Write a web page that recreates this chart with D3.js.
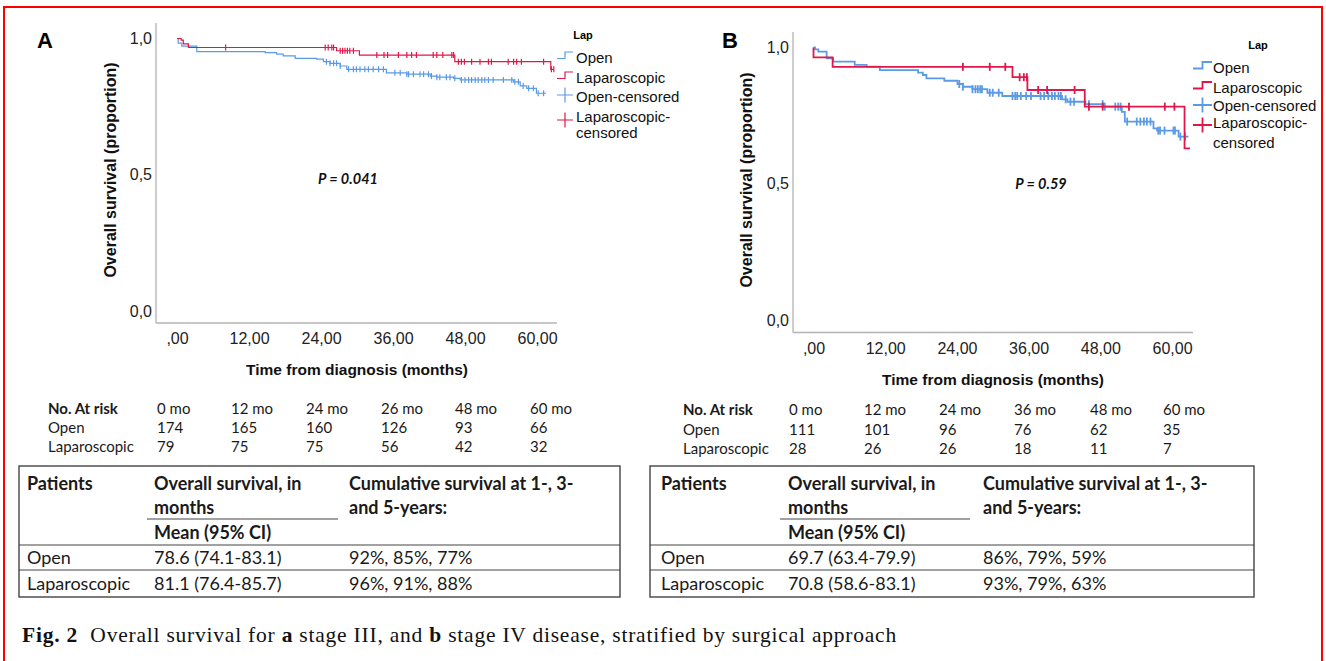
<!DOCTYPE html>
<html lang="en">
<head>
<meta charset="utf-8">
<style>
  body { margin: 0; background: #fff; }
  svg { display: block; }
  .spss { font-family: "Liberation Sans", Arial, sans-serif; }
  .cal { font-family: Lato, "Open Sans", sans-serif; fill: #1a1a1a; }
</style>
</head>
<body>
<svg id="fig" width="1326" height="661"></svg>
<script src="https://d3js.org/d3.v7.min.js"></script>
<script>
// axis ticks
var monthTicks = [0, 12, 24, 36, 48, 60];
var monthTickLabels = [",00", "12,00", "24,00", "36,00", "48,00", "60,00"];
var survTicks = [0, 0.5, 1];
var survTickLabels = ["0,0", "0,5", "1,0"];
var legendLabels = ["Open", "Laparoscopic", "Open-censored", "Laparoscopic-", "censored"];

// panel A (stage III): [month, survival after that month]
var aOpenSteps = [[0, 1], [0.2, 0.983], [0.8, 0.972], [3.3, 0.952], [14.7, 0.948], [16.6, 0.943], [17.7, 0.936],
  [19.7, 0.927], [23.3, 0.924], [24.4, 0.915], [25.5, 0.909], [27.2, 0.899], [28.3, 0.887], [34.9, 0.874],
  [38.3, 0.869], [42.2, 0.862], [43.3, 0.858], [46.1, 0.854], [47.2, 0.848], [56.1, 0.841], [57.2, 0.826],
  [58.3, 0.817], [59.9, 0.799]];
var aOpenEnd = 61.5;
var aOpenCensored = [24.9, 25.5, 26.1, 26.6, 27.2, 28.6, 29.4, 29.9, 30.5, 31.3, 31.9, 32.7, 33.6, 34.4, 36.3,
  37.2, 38.3, 38.6, 39.4, 40.5, 41.1, 41.9, 42.4, 43.3, 43.8, 44.9, 45.5, 46.3, 47.4, 48.0, 48.6, 49.1, 49.7,
  50.2, 50.8, 51.3, 51.9, 52.7, 54.4, 55.8, 56.3, 56.9, 57.7, 58.6, 59.4, 60.2, 61.1];
var aLapSteps = [[0, 1], [0.7, 0.994], [1.05, 0.98], [1.9, 0.967], [26.6, 0.955], [30.4, 0.939], [46.3, 0.915],
  [62.3, 0.887]];
var aLapEnd = 62.8;
var aLapCensored = [8.1, 24.7, 25.2, 25.8, 26.1, 27.2, 27.6, 28.0, 28.4, 28.8, 29.4, 33.3, 34.5, 35.1, 36.9,
  38.3, 39.1, 39.9, 42.7, 43.3, 44.3, 45.8, 46.1, 46.9, 47.4, 47.9, 49.1, 50.5, 51.9, 52.4, 55.2, 56.1, 56.6,
  57.4, 61.1, 62.4, 62.8];

// panel B (stage IV)
var bOpenSteps = [[0, 1], [0.25, 0.993], [0.8, 0.985], [2.2, 0.96], [3.3, 0.948], [6.9, 0.936], [8.9, 0.93],
  [11.1, 0.917], [17.5, 0.908], [18.3, 0.899], [18.9, 0.887], [21.9, 0.878], [24.1, 0.866], [25.0, 0.856],
  [26.6, 0.847], [29.1, 0.834], [31.6, 0.822], [41.6, 0.81], [42.5, 0.801], [45.5, 0.792], [48.6, 0.783],
  [51.6, 0.764], [52.1, 0.728], [56.9, 0.703], [57.5, 0.695], [61.1, 0.673]];
var bOpenEnd = 62.75;
var bOpenCensored = [24.4, 25.0, 26.6, 27.1, 27.5, 27.9, 28.2, 29.5, 30.0, 31.0, 33.3, 33.75, 34.1, 34.7, 35.6,
  36.4, 38.0, 38.6, 39.3, 39.9, 40.4, 41.0, 41.4, 42.2, 43.0, 43.6, 46.1, 48.4, 48.75, 50.5, 51.0, 51.4, 52.5,
  54.1, 54.7, 55.3, 55.8, 56.4, 57.7, 58.0, 58.75, 60.25, 60.5, 61.4, 62.2];
var bLapSteps = [[0, 1], [0, 0.964], [3.2, 0.929], [33.3, 0.891], [35.8, 0.844], [45.4, 0.783], [62.1, 0.63]];
var bLapEnd = 63.0;
var bLapCensored = [25.0, 29.5, 32.1, 34.5, 35.2, 35.7, 37.6, 39.1, 43.7, 46.1, 48.4, 52.8, 58.8, 60.4];

// numbers at risk
var riskHeadA = ["0 mo", "12 mo", "24 mo", "26 mo", "48 mo", "60 mo"];
var riskOpenA = [174, 165, 160, 126, 93, 66];
var riskLapA = [79, 75, 75, 56, 42, 32];
var riskHeadB = ["0 mo", "12 mo", "24 mo", "36 mo", "48 mo", "60 mo"];
var riskOpenB = [111, 101, 96, 76, 62, 35];
var riskLapB = [28, 26, 26, 18, 11, 7];

// summary tables
var summaryHead = [["Patients"], ["Overall survival, in", "months", "Mean (95% CI)"], ["Cumulative survival at 1-, 3-", "and 5-years:"]];
var summaryA = [["Open", "78.6 (74.1-83.1)", "92%, 85%, 77%"], ["Laparoscopic", "81.1 (76.4-85.7)", "96%, 91%, 88%"]];
var summaryB = [["Open", "69.7 (63.4-79.9)", "86%, 79%, 59%"], ["Laparoscopic", "70.8 (58.6-83.1)", "93%, 79%, 63%"]];

var BLUE = "#5b9be6", RED = "#e0174b", AXIS = "#b3b3b3";

var svg = d3.select("#fig");

svg.append("rect").attr("x", 4).attr("y", 7).attr("width", 1318).attr("height", 700)
  .attr("fill", "none").attr("stroke", "#ff0000").attr("stroke-width", 2);

function survAt(steps, t) {
  var s = 1;
  steps.forEach(function(d) { if (d[0] <= t) s = d[1]; });
  return s;
}

function drawPanel(p) {
  var g = svg.append("g").attr("class", "spss");
  var x = d3.scaleLinear().domain([0, 60]).range([p.x0, p.x60]);
  var y = d3.scaleLinear().domain([0, 1]).range([p.yBot, p.yTop]);

  g.append("text").attr("x", p.letter[0]).attr("y", p.letter[1]).attr("text-anchor", "middle")
    .attr("dominant-baseline", "central").attr("font-size", 22).attr("font-weight", "bold").text(p.letter[2]);

  // axis lines
  g.append("line").attr("x1", p.axisX).attr("x2", p.axisX).attr("y1", p.axisTop).attr("y2", p.axisY)
    .attr("stroke", AXIS).attr("stroke-width", 1.3);
  g.append("line").attr("x1", p.axisX).attr("x2", p.axisRight).attr("y1", p.axisY).attr("y2", p.axisY)
    .attr("stroke", AXIS).attr("stroke-width", 1.3);

  var ya = d3.axisLeft(y).tickValues(survTicks).tickSize(0).tickPadding(4)
    .tickFormat(function(d, i) { return survTickLabels[i]; });
  g.append("g").attr("transform", "translate(" + p.axisX + ",0)").call(ya)
    .call(function(s) { s.select(".domain").remove(); })
    .selectAll("text").attr("font-size", 16).attr("fill", "#222").attr("font-family", "Liberation Sans, Arial, sans-serif");

  var xa = d3.axisBottom(x).tickValues(monthTicks).tickSize(0).tickPadding(10)
    .tickFormat(function(d, i) { return monthTickLabels[i]; });
  g.append("g").attr("transform", "translate(0," + p.axisY + ")").call(xa)
    .call(function(s) { s.select(".domain").remove(); })
    .selectAll("text").attr("font-size", 16).attr("fill", "#222").attr("font-family", "Liberation Sans, Arial, sans-serif");

  g.append("text").attr("transform", "translate(" + p.yTitle[0] + "," + p.yTitle[1] + ") rotate(-90)")
    .attr("text-anchor", "middle").attr("dominant-baseline", "central").attr("font-size", 16)
    .attr("font-weight", "bold").attr("fill", "#111").text("Overall survival (proportion)");
  g.append("text").attr("x", p.xTitle[0]).attr("y", p.xTitle[1]).attr("text-anchor", "middle")
    .attr("dominant-baseline", "central").attr("font-size", 15.5).attr("font-weight", "bold")
    .attr("fill", "#111").text("Time from diagnosis (months)");

  g.append("text").attr("x", p.pv[0]).attr("y", p.pv[1]).attr("text-anchor", "middle")
    .attr("dominant-baseline", "central").attr("font-family", "Lato, sans-serif").attr("font-size", 14.5)
    .attr("font-weight", "bold").attr("font-style", "italic").attr("fill", "#111").text(p.pv[2]);

  var line = d3.line().x(function(d) { return x(d[0]); }).y(function(d) { return y(d[1]); })
    .curve(d3.curveStepAfter);

  p.series.forEach(function(sr) {
    var pts = sr.steps.concat([[sr.end, sr.steps[sr.steps.length - 1][1]]]);
    g.append("path").attr("d", line(pts)).attr("fill", "none").attr("stroke", sr.color)
      .attr("stroke-width", p.lw);
    g.selectAll(null).data(sr.censored).enter().append("line")
      .attr("x1", function(t) { return x(t); }).attr("x2", function(t) { return x(t); })
      .attr("y1", function(t) { return y(survAt(sr.steps, t)) - p.tick; })
      .attr("y2", function(t) { return y(survAt(sr.steps, t)) + p.tick; })
      .attr("stroke", sr.color).attr("stroke-width", p.lw);
  });

  // legend
  var L = p.legend;
  g.append("text").attr("x", L.title[0]).attr("y", L.title[1]).attr("text-anchor", "middle")
    .attr("dominant-baseline", "central").attr("font-size", 11).attr("font-weight", "bold").text("Lap");
  var colors = [BLUE, RED];
  [0, 1].forEach(function(i) {
    var cy = L.rows[i];
    g.append("path").attr("d", "M" + L.symX + "," + (cy + 1.5) + "H" + (L.symX + L.w / 2) + "V" + (cy - 5) + "H" + (L.symX + L.w))
      .attr("fill", "none").attr("stroke", colors[i]).attr("stroke-width", p.lw);
  });
  [2, 3].forEach(function(i) {
    var cy = L.cross[i - 2];
    var cx = L.symX + L.w / 2;
    g.append("path").attr("d", "M" + L.symX + "," + cy + "H" + (L.symX + L.w) + "M" + cx + "," + (cy - 7.5) + "V" + (cy + 7.5))
      .attr("fill", "none").attr("stroke", colors[i - 2]).attr("stroke-width", p.lw);
  });
  legendLabels.forEach(function(t, i) {
    g.append("text").attr("x", L.textX).attr("y", L.rows[i]).attr("dominant-baseline", "central")
      .attr("font-size", 15).attr("fill", "#111").text(t);
  });
}

drawPanel({
  x0: 177, x60: 537, yTop: 38.5, yBot: 311, axisX: 156, axisTop: 23, axisY: 323, axisRight: 557,
  letter: [45, 40, "A"], yTitle: [110, 170], xTitle: [357, 369], pv: [348, 178, "P = 0.041"],
  lw: 1.2, tick: 3,
  series: [
    { steps: aOpenSteps, end: aOpenEnd, censored: aOpenCensored, color: BLUE },
    { steps: aLapSteps, end: aLapEnd, censored: aLapCensored, color: RED }
  ],
  legend: { title: [583, 35], symX: 557, w: 16, textX: 576, rows: [57, 77, 96, 116, 132], cross: [95, 120] }
});

drawPanel({
  x0: 813.5, x60: 1172, yTop: 47.5, yBot: 320, axisX: 793, axisTop: 32, axisY: 332.5, axisRight: 1193,
  letter: [730, 40.5, "B"], yTitle: [746, 180], xTitle: [993, 379], pv: [1041, 183, "P = 0.59"],
  lw: 1.8, tick: 4,
  series: [
    { steps: bOpenSteps, end: bOpenEnd, censored: bOpenCensored, color: BLUE },
    { steps: bLapSteps, end: bLapEnd, censored: bLapCensored, color: RED }
  ],
  legend: { title: [1258, 45], symX: 1193, w: 19, textX: 1213, rows: [67, 87, 105, 122, 142], cross: [105, 125] }
});

function drawRisk(t) {
  var g = svg.append("g").attr("class", "cal").attr("font-size", 15);
  var rows = [["No. At risk"].concat(t.head), ["Open"].concat(t.open), ["Laparoscopic"].concat(t.lap)];
  rows.forEach(function(r, ri) {
    r.forEach(function(v, ci) {
      g.append("text").attr("x", ci === 0 ? t.labelX : t.cols[ci - 1]).attr("y", t.rows[ri])
        .attr("dominant-baseline", "central")
        .attr("font-weight", ri === 0 && ci === 0 ? "bold" : "normal").text(v);
    });
  });
}

drawRisk({ head: riskHeadA, open: riskOpenA, lap: riskLapA, labelX: 48,
  cols: [157, 231, 306, 381, 455, 530], rows: [408, 427, 446] });
drawRisk({ head: riskHeadB, open: riskOpenB, lap: riskLapB, labelX: 683,
  cols: [789, 864, 939, 1014, 1090, 1163], rows: [409, 429, 448] });

function drawSummary(t) {
  var g = svg.append("g").attr("class", "cal").attr("font-size", 18);
  g.append("rect").attr("x", t.x1).attr("y", 466).attr("width", t.x2 - t.x1).attr("height", 131)
    .attr("fill", "none").attr("stroke", "#444").attr("stroke-width", 1.4);
  g.append("line").attr("x1", t.ulX[0]).attr("x2", t.ulX[1]).attr("y1", 519).attr("y2", 519)
    .attr("stroke", "#444").attr("stroke-width", 1.2);
  [545, 570].forEach(function(yy) {
    g.append("line").attr("x1", t.x1).attr("x2", t.x2).attr("y1", yy).attr("y2", yy)
      .attr("stroke", "#444").attr("stroke-width", 1.2);
  });
  var headY = [483, 507, 532];
  summaryHead.forEach(function(col, ci) {
    col.forEach(function(s, li) {
      g.append("text").attr("x", t.cols[ci]).attr("y", headY[li]).attr("dominant-baseline", "central")
        .attr("font-weight", "bold").text(s);
    });
  });
  t.data.forEach(function(r, ri) {
    r.forEach(function(s, ci) {
      g.append("text").attr("x", t.cols[ci]).attr("y", [557, 583][ri]).attr("dominant-baseline", "central").text(s);
    });
  });
}

drawSummary({ data: summaryA, x1: 19, x2: 620, cols: [27, 154, 349], ulX: [147, 338] });
drawSummary({ data: summaryB, x1: 650, x2: 1254, cols: [661, 788, 983], ulX: [780, 970] });

var cap = svg.append("text").attr("x", 22).attr("y", 642).attr("style", "white-space: pre")
  .attr("font-family", "Liberation Serif, Times New Roman, serif").attr("font-size", 21.5).attr("fill", "#111");
[["Fig. 2", true], ["  Overall survival for ", false], ["a", true], [" stage III, and ", false], ["b", true],
 [" stage IV disease, stratified by surgical approach", false]].forEach(function(s) {
  cap.append("tspan").attr("font-weight", s[1] ? "bold" : "normal").text(s[0]);
});
// stretch caption to the width it has in the figure
var capLen = cap.node().getComputedTextLength();
var capChars = cap.text().length;
cap.attr("letter-spacing", Math.max(0, (875 - capLen) / capChars).toFixed(2));
</script>
</body>
</html>
